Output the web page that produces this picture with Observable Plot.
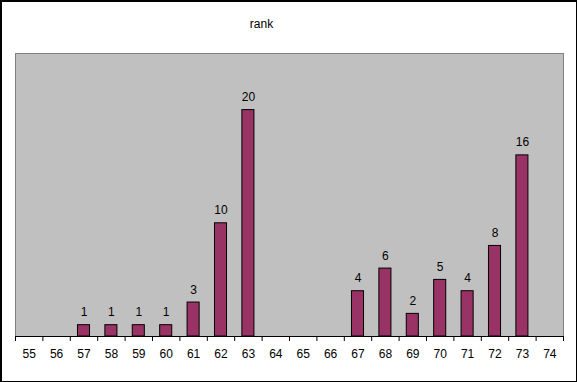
<!DOCTYPE html>
<html>
<head>
<meta charset="utf-8">
<script src="https://cdn.jsdelivr.net/npm/d3@7"></script>
<script src="https://cdn.jsdelivr.net/npm/@observablehq/plot@0.6"></script>
<style>
  html, body { margin: 0; padding: 0; background: #fff; }
  #wrap { position: relative; width: 577px; height: 382px; font-family: "Liberation Sans", Arial, sans-serif; }
  #title { position: absolute; top: 17px; left: 0; width: 523px; text-align: center; font-size: 12px; line-height: 14px; color: #000; }
  #chart { position: absolute; top: 0; left: 0; }
  #border { position: absolute; top: 0; left: 0; width: 577px; height: 382px; box-sizing: border-box; border: 1px solid #000; border-top-width: 2px; border-left-width: 2px; pointer-events: none; }
</style>
</head>
<body>
<div id="wrap">
  <div id="chart"></div>
  <div id="title">rank</div>
  <div id="border"></div>
</div>
<script>
const categories = [55, 56, 57, 58, 59, 60, 61, 62, 63, 64, 65, 66, 67, 68, 69, 70, 71, 72, 73, 74];
const counts     = [0, 0, 1, 1, 1, 1, 3, 10, 20, 0, 0, 0, 4, 6, 2, 5, 4, 8, 16, 0];
const yMax = 25;

const data = categories.map((c, i) => ({cat: c, value: counts[i]}));
const bars = data.filter(d => d.value > 0);
const boundaries = categories.map(c => c - 0.5).concat([categories[categories.length - 1] + 0.5]);
const halfBar = 0.22;

const chart = Plot.plot({
  width: 577,
  height: 382,
  marginLeft: 15,
  marginRight: 14,
  marginTop: 53,
  marginBottom: 46,
  style: {fontFamily: "Liberation Sans, Arial, sans-serif", fontSize: "12px", background: "transparent", overflow: "visible"},
  x: {type: "linear", domain: [boundaries[0], boundaries[boundaries.length - 1]], label: null},
  y: {domain: [0, yMax], label: null},
  marks: [
    Plot.frame({fill: "#c0c0c0", stroke: "#808080"}),
    Plot.rectY(bars, {x1: d => d.cat - halfBar, x2: d => d.cat + halfBar, y1: 0, y2: "value", fill: "#993366", stroke: "#000", strokeWidth: 1}),
    Plot.text(bars, {x: "cat", y: "value", text: d => String(d.value), lineAnchor: "bottom", dy: -9, fill: "#000", fontSize: 12}),
    Plot.ruleY([0], {stroke: "#000"}),
    Plot.axisX({ticks: boundaries, tickFormat: () => "", tickSize: 5, stroke: "#000", label: null}),
    Plot.axisX({ticks: categories, tickFormat: d => String(d), tickSize: 0, tickPadding: 13, fill: "#000", fontSize: 12, label: null}),
    Plot.axisY({ticks: [], label: null})
  ]
});
document.getElementById("chart").appendChild(chart);
</script>
</body>
</html>
